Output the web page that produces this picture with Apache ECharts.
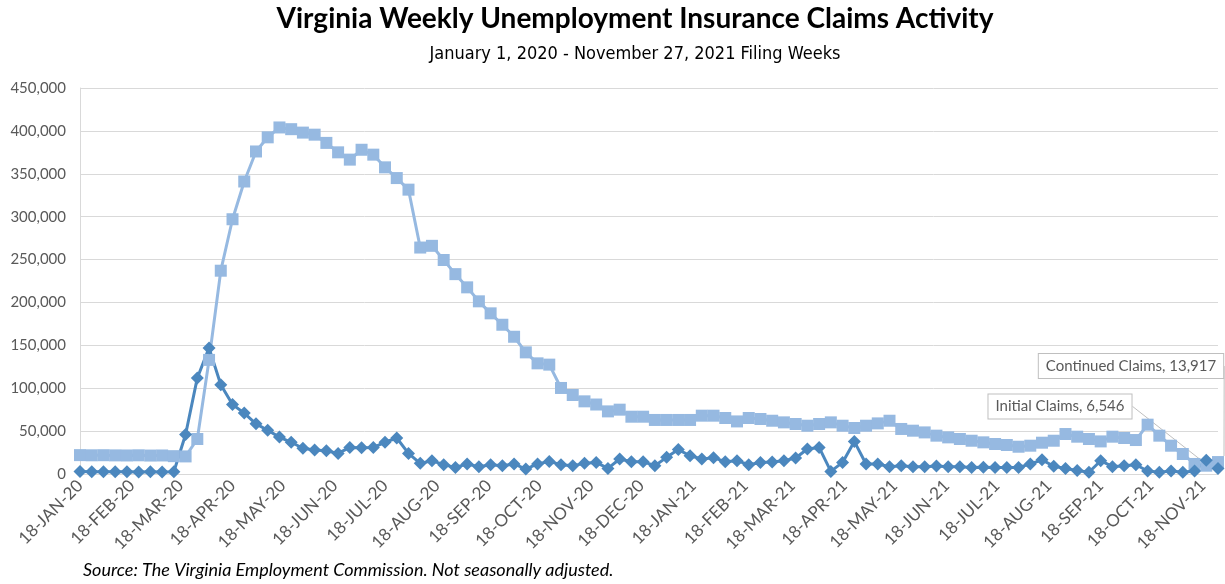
<!DOCTYPE html>
<html>
<head>
<meta charset="utf-8">
<script src="https://cdn.jsdelivr.net/npm/echarts@6/dist/echarts.min.js"></script>
<style>
  html, body { margin: 0; padding: 0; background: #fff; }
  #chart { width: 1225px; height: 584px; }
</style>
</head>
<body>
<div id="chart"></div>
<script>
// weekly filing weeks, first week ending 18-Jan-2020, last 27-Nov-2021
var firstWeek = new Date(2020, 0, 18);
var lastWeek = new Date(2021, 10, 27);

var initialClaims = [
    2900, 2700, 2600, 2500, 2600, 2400, 2500, 2300, 2700,
    46000, 112000, 147000, 104000, 81000, 71000, 58500, 51000, 43000, 37000,
    30000, 28000, 27000, 24000, 31000, 30500, 31000, 37000, 42000, 24000,
    12400, 15500, 10800, 7700, 11700, 8500, 10800, 9700, 11700, 5800,
    11700, 14700, 10800, 9700, 12400, 13500, 6500, 17500, 14300, 14300,
    9700, 19400, 28500, 21300, 17500, 19000, 14300, 15500, 10800, 13500,
    14000, 15500, 18600, 29100, 31000, 3000, 13500, 38000, 11700, 11700,
    8500, 9700, 8500, 8500, 9200, 8500, 8500, 7700, 8000, 7700,
    7700, 7700, 11700, 16500, 9000, 6500, 4200, 2000, 15500, 8500,
    9700, 10800, 3500, 2000, 3500, 2000, 3500, 16000, 6546
];

var continuedClaims = [
    22000, 21800, 21900, 21700, 21600, 21800, 21500, 21600, 20800, 20500,
    40800, 133000, 237000, 297000, 341000, 376000, 392500, 404000, 402000, 398000,
    395600, 386000, 375000, 366500, 378000, 372300, 357500, 345000, 331500, 264000,
    266000, 249500, 233000, 217600, 201300, 187300, 174000, 160000, 141800, 129000,
    127500, 100300, 92100, 84700, 81000, 73000, 75000, 66800, 66800, 63000,
    63000, 63000, 63000, 68000, 68000, 65300, 61300, 65300, 64100, 62100,
    60200, 58300, 56300, 58300, 60200, 56300, 53600, 56300, 59000, 62100,
    52500, 50500, 48500, 44700, 42700, 40800, 38800, 36900, 35000, 33800,
    31800, 33000, 36500, 38800, 46600, 43500, 40800, 38000, 43500, 42000,
    39600, 57500, 44700, 33000, 23300, 11700, 9700, 13917
];

var yTicks = [0, 50000, 100000, 150000, 200000, 250000, 300000, 350000, 400000, 450000];
var monthNames = ['JAN','FEB','MAR','APR','MAY','JUN','JUL','AUG','SEP','OCT','NOV','DEC'];

// week dates
var weeks = [];
for (var i = 0; i < initialClaims.length; i++) {
    var d = new Date(firstWeek.getTime());
    d.setDate(d.getDate() + i * 7);
    weeks.push(d.getTime());
}

// axis labels on the 18th of every month
var monthTicks = [];
for (var m = 0; m < 23; m++) {
    monthTicks.push(new Date(2020, m, 18).getTime());
}

function fmtDate(v) {
    var d = new Date(v);
    var yy = String(d.getFullYear()).slice(2);
    return d.getDate() + '-' + monthNames[d.getMonth()] + '-' + yy;
}

function fmtNum(v) {
    return String(v).replace(/\B(?=(\d{3})+(?!\d))/g, ',');
}

function buildData(values, name) {
    var out = [];
    for (var i = 0; i < values.length; i++) {
        if (i == values.length - 1) {
            out.push({
                value: [weeks[i], values[i]],
                label: {
                    show: true,
                    formatter: name + ', ' + fmtNum(values[i])
                }
            });
        } else {
            out.push([weeks[i], values[i]]);
        }
    }
    return out;
}

var calloutLabel = {
    position: 'inside',
    fontFamily: 'Lato',
    fontSize: 15,
    color: '#595959',
    backgroundColor: '#fff',
    borderColor: '#bfbfbf',
    borderWidth: 1,
    padding: [5, 7, 4, 7]
};

var grey = '#595959';
var myChart = echarts.init(document.getElementById('chart'));
myChart.setOption({
    animation: false,
    title: [{
        text: 'Virginia Weekly Unemployment Insurance Claims Activity',
        left: 630,
        textAlign: 'center',
        top: 0,
        textStyle: {
            fontFamily: 'Lato',
            fontWeight: 'bold',
            fontSize: 28,
            color: '#000'
        },
        subtext: 'January 1, 2020 - November 27, 2021 Filing Weeks',
        subtextStyle: {
            fontFamily: "'DejaVu Sans Condensed', 'Liberation Sans', sans-serif",
            fontSize: 18,
            color: '#000'
        },
        itemGap: 12
    }, {
        text: 'Source: The Virginia Employment Commission. Not seasonally adjusted.',
        left: 78,
        top: 556,
        textStyle: {
            fontFamily: 'Lato',
            fontStyle: 'italic',
            fontWeight: 'normal',
            fontSize: 18,
            color: '#000'
        }
    }],
    grid: {
        left: 80,
        right: 7,
        top: 88,
        bottom: 110
    },
    xAxis: {
        type: 'value',
        min: firstWeek.getTime(),
        max: lastWeek.getTime(),
        axisLine: { show: true, lineStyle: { color: '#d9d9d9' } },
        axisTick: { show: false },
        splitLine: { show: false },
        axisLabel: {
            customValues: monthTicks,
            rotate: 45,
            margin: 9,
            fontFamily: 'Lato',
            fontSize: 17,
            color: grey,
            formatter: fmtDate
        }
    },
    yAxis: {
        type: 'value',
        min: 0,
        max: 450000,
        interval: 50000,
        axisLine: { show: true, lineStyle: { color: '#d9d9d9' } },
        axisTick: { show: false },
        splitLine: { show: true, lineStyle: { color: '#d9d9d9' } },
        axisLabel: {
            customValues: yTicks,
            margin: 14,
            fontFamily: 'Lato',
            fontSize: 15,
            color: grey,
            formatter: fmtNum
        }
    },
    series: [{
        name: 'Continued Claims',
        type: 'line',
        symbol: 'rect',
        symbolSize: 12,
        lineStyle: { width: 3, color: '#96b9e1' },
        itemStyle: { color: '#96b9e1' },
        label: calloutLabel,
        labelLine: { show: true, lineStyle: { color: '#bfbfbf', width: 1 } },
        labelLayout: function (p) {
            return { dx: -87, dy: -96 };
        },
        data: buildData(continuedClaims, 'Continued Claims')
    }, {
        name: 'Initial Claims',
        type: 'line',
        symbol: 'diamond',
        symbolSize: 13,
        lineStyle: { width: 3, color: '#4b87be' },
        itemStyle: { color: '#4b87be' },
        label: calloutLabel,
        labelLine: { show: true, lineStyle: { color: '#bfbfbf', width: 1 } },
        labelLayout: function (p) {
            return { dx: -158, dy: -62 };
        },
        data: buildData(initialClaims, 'Initial Claims')
    }]
});
</script>
</body>
</html>
